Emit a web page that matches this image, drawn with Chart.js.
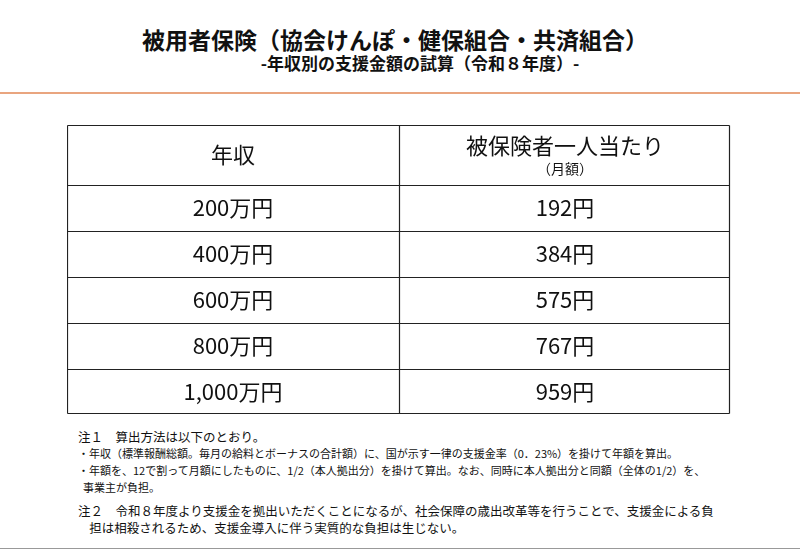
<!DOCTYPE html>
<html><head><meta charset="utf-8">
<script src="https://cdn.jsdelivr.net/npm/chart.js@4"></script>
<style>
body{margin:0;width:800px;height:555px;background:#fff;font-family:"Noto Sans CJK JP",sans-serif;color:#111;position:relative;overflow:hidden}
#t1{position:absolute;top:22px;width:790px;text-align:center;font-size:23px;font-weight:bold}
#t2{position:absolute;top:50px;width:840px;text-align:center;font-size:17px;font-weight:bold}
#rule{position:absolute;top:92px;left:0;width:800px;height:2px;background:#e9a57f}
#wrap{position:absolute;left:67px;top:125px;width:664px;height:290px}
#notes{position:absolute;left:78px;top:428px;font-size:11.5px;line-height:17px;width:700px}
#bottom{position:absolute;top:548px;left:0;width:800px;height:1px;background:#999}
</style></head><body>
<div id="t1">被用者保険（協会けんぽ・健保組合・共済組合）</div>
<div id="t2">-年収別の支援金額の試算（令和８年度）-</div>
<div id="rule"></div>
<div id="wrap"><canvas id="tbl"></canvas></div>
<div id="notes">
<div style="font-size:12.5px">注１　算出方法は以下のとおり。</div>
<div style="font-size:11px">・年収（標準報酬総額。毎月の給料とボーナスの合計額）に、国が示す一律の支援金率（0．23%）を掛けて年額を算出。</div>
<div style="font-size:11px">・年額を、12で割って月額にしたものに、1/2（本人拠出分）を掛けて算出。なお、同時に本人拠出分と同額（全体の1/2）を、<br>&nbsp;&nbsp;事業主が負担。</div>
<div style="font-size:12.5px;margin-top:6px">注２　令和８年度より支援金を拠出いただくことになるが、社会保障の歳出改革等を行うことで、支援金による負<br>&nbsp;&nbsp;&nbsp;&nbsp;担は相殺されるため、支援金導入に伴う実質的な負担は生じない。</div>
</div>
<div id="bottom"></div>
<script>
const headers = ['年収', '被保険者一人当たり'];
const subHeader = '（月額）';
const incomes = ['200万円', '400万円', '600万円', '800万円', '1,000万円'];
const perPerson = ['192円', '384円', '575円', '767円', '959円'];
const headerRows = 1.3;

const tablePlugin = {
  id: 'tablePlugin',
  afterDraw(chart) {
    const c = chart.ctx, x = chart.scales.x, y = chart.scales.y;
    const font = '"Noto Sans CJK JP", sans-serif';
    const W = chart.width, H = chart.height;
    const clampY = v => Math.min(Math.max(Math.round(v) + 0.5, 0.5), H - 1.5);
    const clampX = v => Math.min(Math.max(Math.round(v) + 0.5, 0.5), W - 1.5);
    c.save();
    c.strokeStyle = '#222';
    c.lineWidth = 1.2;
    const total = headerRows + incomes.length;
    const bounds = [0, headerRows];
    incomes.forEach((_, i) => bounds.push(headerRows + i + 1));
    bounds.forEach(v => {
      const py = clampY(y.getPixelForValue(v));
      c.beginPath(); c.moveTo(clampX(x.getPixelForValue(0)), py); c.lineTo(clampX(x.getPixelForValue(2)), py); c.stroke();
    });
    [0, 1, 2].forEach(v => {
      const px = clampX(x.getPixelForValue(v));
      c.beginPath(); c.moveTo(px, clampY(y.getPixelForValue(0))); c.lineTo(px, clampY(y.getPixelForValue(total))); c.stroke();
    });
    c.fillStyle = '#111';
    c.textAlign = 'center'; c.textBaseline = 'middle';
    c.font = '22px ' + font;
    c.fillText(headers[0], x.getPixelForValue(0.5), y.getPixelForValue(headerRows / 2));
    c.fillText(headers[1], x.getPixelForValue(1.5), y.getPixelForValue(0.45));
    c.font = '14px ' + font;
    c.fillText(subHeader, x.getPixelForValue(1.5), y.getPixelForValue(0.95));
    c.font = '22px ' + font;
    incomes.forEach((v, i) => {
      const py = y.getPixelForValue(headerRows + i + 0.5);
      c.fillText(v, x.getPixelForValue(0.5), py);
      c.fillText(perPerson[i], x.getPixelForValue(1.5), py);
    });
    c.restore();
  }
};

new Chart(document.getElementById('tbl'), {
  type: 'scatter',
  data: { datasets: [{ data: [] }] },
  options: {
    responsive: true,
    maintainAspectRatio: false,
    animation: false,
    layout: { padding: 0 },
    plugins: { legend: { display: false }, tooltip: { enabled: false } },
    scales: {
      x: { type: 'linear', min: 0, max: 2, display: false },
      y: { type: 'linear', min: 0, max: headerRows + incomes.length, reverse: true, display: false }
    }
  },
  plugins: [tablePlugin]
});
</script>
</body></html>
